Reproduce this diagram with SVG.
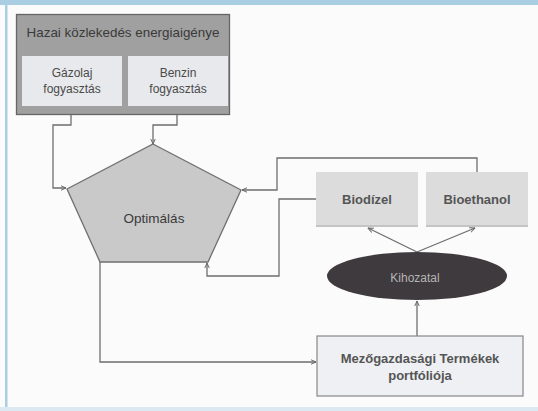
<svg xmlns="http://www.w3.org/2000/svg" width="538" height="411" viewBox="0 0 538 411">
  <defs>
    <marker id="arr" viewBox="0 0 10 10" refX="9" refY="5" markerWidth="6" markerHeight="6" orient="auto-start-reverse" markerUnits="userSpaceOnUse">
      <path d="M0,1 L9,5 L0,9" fill="none" stroke="#666" stroke-width="1.6"/>
    </marker>
    <style>
      .t { font-family: "Liberation Sans", Arial, sans-serif; text-anchor: middle; }
      .w { stroke: #6e6e6e; stroke-width: 1.3; fill: none; }
      .lbl { font-size: 12px; fill: #4a4a4a; }
      .bold { font-weight: bold; fill: #555; font-size: 13px; }
    </style>
  </defs>

  <!-- page and frame -->
  <rect x="0" y="0" width="538" height="411" fill="#fbfbfb"/>
  <rect x="0" y="0" width="538" height="5" fill="#a9cde2"/>
  <rect x="5" y="0" width="2.5" height="411" fill="#a9cde2"/>
  <rect x="0" y="407" width="538" height="4" fill="#dce9f2"/>

  <!-- connectors -->
  <g id="connectors">
    <polyline class="w" points="71,106 71,125 53,125 53,188 66,188" marker-end="url(#arr)"/>
    <polyline class="w" points="177,106 177,125 153,125 153,144" marker-end="url(#arr)"/>
    <polyline class="w" points="477,172 477,158 277,158 277,190 242,190" marker-end="url(#arr)"/>
    <polyline class="w" points="316,199 279,199 279,276 207,276 207,263" marker-end="url(#arr)"/>
    <polyline class="w" points="100,262 100,362 316,362" marker-end="url(#arr)"/>
    <line class="w" x1="417" y1="252" x2="368" y2="228" marker-end="url(#arr)"/>
    <line class="w" x1="417" y1="252" x2="475" y2="228" marker-end="url(#arr)"/>
    <line class="w" x1="417" y1="336" x2="417" y2="301" marker-end="url(#arr)"/>
  </g>

  <!-- demand block -->
  <g id="demand">
    <rect x="16.5" y="14.5" width="213" height="100" fill="#a0a0a0" stroke="#666" stroke-width="1.3"/>
    <text class="t" x="123" y="37" font-size="13.4" fill="#3a3a3a">Hazai közlekedés energiaigénye</text>
  </g>
  <g id="diesel">
    <rect x="22" y="56" width="100" height="50" fill="#e7e9ec"/>
    <text class="t lbl" x="72" y="77">Gázolaj</text>
    <text class="t lbl" x="72" y="93">fogyasztás</text>
  </g>
  <g id="petrol">
    <rect x="128" y="56" width="100" height="50" fill="#e7e9ec"/>
    <text class="t lbl" x="178" y="77">Benzin</text>
    <text class="t lbl" x="178" y="93">fogyasztás</text>
  </g>

  <!-- optimisation -->
  <g id="optimization">
    <polygon points="153,144 241,190 208,262 100,262 67,189" fill="#c9c9c9" stroke="#707070" stroke-width="1.3"/>
    <text class="t" x="154" y="223" font-size="13.5" fill="#3a3a3a">Optimálás</text>
  </g>

  <!-- fuels -->
  <g id="biodiesel">
    <rect x="316" y="172" width="102" height="55" fill="#dcdcdd"/>
    <rect x="316" y="225" width="102" height="2" fill="#c4c4c5"/>
    <text class="t bold" x="367" y="204">Biodízel</text>
  </g>
  <g id="bioethanol">
    <rect x="426" y="172" width="102" height="55" fill="#dcdcdd"/>
    <rect x="426" y="225" width="102" height="2" fill="#c4c4c5"/>
    <text class="t bold" x="477" y="204">Bioethanol</text>
  </g>

  <!-- yield -->
  <g id="yield">
    <ellipse cx="417" cy="276" rx="90" ry="24" fill="#3f3a3d"/>
    <text class="t" x="415" y="282" font-size="12" fill="#b5b5b5">Kihozatal</text>
  </g>

  <!-- crop portfolio -->
  <g id="portfolio">
    <rect x="317" y="336" width="206" height="60" fill="#eef0f3" stroke="#888" stroke-width="1.2"/>
    <text class="t bold" x="420" y="363">Mezőgazdasági Termékek</text>
    <text class="t bold" x="420" y="380">portfóliója</text>
  </g>
</svg>
